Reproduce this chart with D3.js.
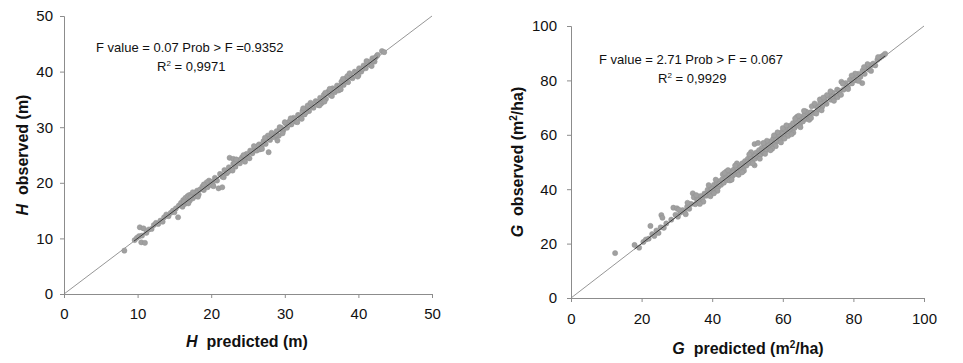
<!DOCTYPE html>
<html>
<head>
<meta charset="utf-8">
<script src="https://cdn.jsdelivr.net/npm/d3@7"></script>
<style>
  body { margin: 0; background: #fff; }
  svg { font-family: "Liberation Sans", Arial, sans-serif; }
  .axis path, .axis line { stroke: #8c8c8c; }
  .axis text { fill: #111; font-size: 15px; }
</style>
</head>
<body>
<script>
// H: predicted vs observed height (m)
const hPoints = [
  [8.2,7.8],[9.6,9.7],[9.9,10.1],[10.2,10.4],[10.3,12.0],[10.8,11.8],[10.5,9.3],[11.0,9.2],[10.6,10.5],[11.2,11.0],
  [11.5,11.6],[11.9,11.7],[12.2,12.4],[12.5,12.8],[12.8,12.6],[13.1,13.2],[13.4,13.0],[13.6,13.8],[13.9,14.3],[14.2,14.0],
  [14.5,14.6],[14.8,15.0],[15.0,14.7],[15.5,13.8],[15.6,15.9],[15.9,16.4],[16.1,15.7],[16.2,16.9],[16.4,16.2],[16.5,17.3],
  [16.7,16.5],[16.8,17.6],[17.0,17.8],[17.1,16.8],[17.3,17.9],[17.5,17.2],[17.7,18.2],[17.9,17.6],[18.1,18.6],[18.3,17.9],
  [18.5,18.8],[18.8,19.3],[19.0,18.7],[19.2,19.7],[19.5,19.2],[19.7,20.4],[20.0,20.2],[20.2,19.8],[20.5,20.9],[20.8,20.4],
  [21.0,19.0],[21.5,19.2],[21.2,21.6],[21.5,21.1],[21.8,22.3],[22.1,21.7],[22.4,22.8],[22.5,24.5],[23.0,24.3],[22.7,22.3],
  [23.0,23.4],[23.3,22.9],[23.6,24.0],[23.9,23.5],[24.2,24.6],[24.5,24.1],[24.8,25.2],[25.0,24.6],[25.3,25.8],[25.6,25.3],
  [25.9,26.2],[26.2,25.8],[26.5,26.9],[26.8,26.4],[27.1,27.5],[27.4,27.0],[27.7,28.5],[27.8,25.5],[28.0,27.7],[28.3,28.7],
  [28.6,28.2],[28.9,29.3],[29.2,28.5],[29.0,27.6],[29.5,29.9],[29.8,29.4],[30.1,30.7],[30.3,29.9],[30.6,31.0],[30.9,30.5],
  [31.2,31.7],[31.5,31.0],[31.8,32.2],[32.1,31.7],[32.4,32.9],[32.7,32.3],[33.0,33.4],[33.3,32.9],[33.6,34.1],[33.9,33.5],
  [34.2,34.7],[34.5,34.0],[34.8,35.3],[35.0,34.4],[35.3,35.8],[35.6,35.1],[35.9,36.4],[36.2,35.8],[36.5,37.0],[36.8,36.3],
  [37.1,37.5],[37.4,37.0],[37.7,38.2],[38.0,37.6],[38.3,38.8],[38.6,38.1],[38.9,39.4],[39.2,38.8],[39.5,40.0],[39.8,39.4],
  [40.1,40.6],[40.4,40.0],[40.7,41.1],[41.0,40.6],[41.3,41.8],[41.6,41.2],[41.9,42.4],[42.2,41.8],[42.5,42.8],[42.6,43.0],
  [43.2,43.7],[43.5,43.5],
  [15.2,15.4],[16.3,16.6],[17.2,17.4],[18.0,18.2],[18.9,18.9],[19.9,19.6],[20.6,20.6],[21.4,21.4],[22.3,22.0],[23.2,23.5],
  [24.0,24.2],[24.7,24.7],[25.5,25.6],[26.3,26.6],[27.0,27.0],[27.9,27.9],[28.8,28.6],[29.6,29.6],[30.5,30.4],[31.3,31.4],
  [32.0,32.1],[32.9,32.7],[33.7,33.8],[34.4,34.5],[35.2,35.1],[36.0,36.1],[36.7,36.7],[37.5,37.4],[38.2,38.3],[39.0,39.0],
  [39.7,39.8],[40.5,40.4],[41.2,41.3],[42.0,42.0],[31.7,30.9],[34.9,34.2],[35.5,36.2],[37.3,36.6],[38.5,39.2],[40.0,39.3],
  [22.9,22.2],[26.6,26.0],[24.4,25.0],[29.3,30.0],[33.1,33.9],[36.4,35.6],
  [17.5,18.3],[18.2,17.5],[19.4,20.1],[20.3,19.4],[21.7,21.0],[23.4,24.2],[24.6,23.8],[25.8,26.6],[26.9,26.1],[28.2,29.0],
  [29.7,28.9],[30.8,31.6],[32.3,31.5],[33.5,34.4],[34.7,33.9],[36.1,36.9],[37.6,36.8],[38.8,39.7],[39.9,39.1],[41.1,41.9],
  [41.8,41.0],[42.3,42.5],[30.0,30.9],[32.5,33.4],[35.4,34.6],[37.9,38.7],[27.3,28.1],[25.2,24.4],[19.0,19.7],[16.9,16.3]
];
const hFit = [[9.5, 9.5], [42.6, 42.6]];
const hTicks = [0, 10, 20, 30, 40, 50];

// G: predicted vs observed basal area (m2/ha)
const gPoints = [
  [12.5,16.5],[18.0,19.5],[19.3,18.5],[20.5,20.6],[21.2,21.5],[22.0,21.8],[22.5,26.5],[23.0,23.5],[23.6,22.8],[24.2,24.8],
  [24.8,23.9],[25.4,26.0],[25.6,30.5],[25.9,29.5],[26.3,25.8],[27.0,27.4],[28.4,28.8],[29.0,33.2],[30.0,33.0],[29.6,30.6],
  [30.3,29.9],[31.0,31.4],[31.6,32.3],[32.2,31.6],[32.9,33.5],[33.5,32.8],[34.0,34.6],[34.5,38.5],[34.8,37.0],[35.2,34.5],
  [35.7,36.2],[36.2,35.6],[36.7,37.5],[37.2,36.5],[37.8,38.4],[38.3,37.6],[38.7,39.8],[39.2,38.6],[39.6,40.5],[40.1,39.2],
  [40.5,41.6],[40.9,40.3],[41.3,42.3],[41.7,40.8],[42.1,43.0],[42.5,41.6],[42.9,43.7],[43.3,42.4],[43.7,44.5],[44.1,43.3],
  [44.5,45.6],[44.9,44.0],[45.3,46.6],[45.7,44.8],[46.1,47.2],[46.5,45.5],[46.9,48.0],[47.3,46.3],[47.7,48.6],[48.1,47.1],
  [48.5,49.5],[48.9,48.0],[49.3,50.3],[49.7,48.7],[50.1,51.2],[50.5,49.6],[50.9,51.9],[51.3,50.3],[51.7,52.8],[52.0,48.8],
  [52.1,51.2],[52.0,56.6],[53.0,57.0],[52.5,53.5],[52.9,52.0],[53.3,54.4],[53.7,52.8],[54.1,55.2],[54.5,53.6],[54.9,56.0],
  [55.3,54.4],[55.7,56.9],[56.1,55.2],[56.5,57.6],[56.9,56.0],[57.3,58.6],[57.7,56.9],[58.1,59.3],[58.5,57.6],[58.9,60.1],
  [59.3,58.4],[59.7,61.0],[60.1,59.2],[60.5,61.9],[60.9,60.1],[61.3,62.6],[61.7,60.9],[62.1,63.4],[62.5,61.8],[62.9,64.3],
  [63.3,62.5],[63.7,65.0],[64.1,63.4],[64.5,65.9],[64.9,64.0],[65.3,66.5],[65.7,64.9],[66.1,67.3],[66.5,65.8],[67.0,68.2],
  [67.6,66.8],[68.2,70.5],[68.8,68.0],[69.4,70.6],[70.0,69.2],[70.6,71.8],[71.2,70.4],[71.8,73.0],[72.4,71.4],[73.0,74.2],
  [73.6,72.9],[74.2,75.4],[74.8,74.0],[75.4,76.6],[76.0,75.2],[76.6,79.5],[77.2,76.6],[77.8,79.0],[78.4,77.6],[79.0,80.2],
  [79.6,78.9],[80.2,81.3],[80.8,80.0],[81.4,82.4],[82.0,81.3],[82.5,79.0],[82.6,83.6],[83.2,82.4],[83.8,84.8],[84.4,84.0],
  [85.0,85.6],[85.6,86.2],[86.2,85.5],[86.8,87.6],[87.4,88.2],[88.0,88.8],[88.6,89.3],[89.0,89.8],
  [36.0,36.0],[38.0,38.0],[40.0,40.2],[42.0,41.9],[44.0,44.0],[46.0,46.2],[48.0,48.0],[50.0,50.1],[52.2,52.3],[54.0,54.0],
  [56.0,56.2],[58.0,58.0],[60.0,60.3],[62.0,62.0],[64.0,64.2],[66.0,66.0],[68.0,68.3],[70.0,70.0],[72.0,72.1],[74.0,73.9],
  [76.0,76.2],[78.0,78.0],[80.0,80.1],[45.0,43.2],[47.5,45.3],[39.5,37.4],[44.0,46.5],[43.0,45.5],[55.5,57.8],[60.0,62.5],
  [64.0,66.6],[58.0,55.8],[63.0,60.8],[41.0,43.5],[49.0,46.8],[51.0,53.6],[57.0,54.9],[61.5,59.6],[66.5,68.6],[69.5,67.8],
  [72.5,74.6],[75.5,73.8],[70.5,73.0],
  [30.5,32.5],[32.5,30.8],[35.5,37.8],[37.5,35.4],[39.0,41.5],[41.5,39.4],[43.5,46.0],[45.5,43.5],[47.0,49.5],[48.5,46.2],
  [50.5,52.8],[53.5,51.2],[54.5,57.0],[56.5,54.3],[58.5,60.9],[59.5,57.2],[61.0,63.5],[62.5,60.2],[63.5,66.0],[65.0,62.8],
  [66.0,68.8],[67.5,65.5],[69.0,71.5],[71.0,69.0],[73.5,76.0],[74.5,72.5],[77.0,78.8],[78.5,76.8],[80.5,82.5],[81.5,79.8],
  [84.0,86.0],[85.0,83.5],[87.0,88.6],[33.0,35.0],[36.5,34.6],[46.5,48.7],[51.5,49.5],[57.5,59.8],[60.5,58.6],[64.5,67.0],
  [68.0,66.2],[71.5,73.7],[76.5,74.7],[79.5,81.8],[83.0,84.9],[40.5,38.5],[44.5,47.0],[55.0,53.0]
];
const gFit = [[18, 18], [89, 89]];
const gTicks = [0, 20, 40, 60, 80, 100];

const svg = d3.select("body").append("svg")
  .attr("width", 963)
  .attr("height", 363);

function drawPanel(opt) {
  const x = d3.scaleLinear().domain([0, opt.max]).range([opt.left, opt.right]);
  const y = d3.scaleLinear().domain([0, opt.max]).range([opt.bottom, opt.top]);
  const g = svg.append("g");

  // axes
  g.append("g")
    .attr("class", "axis")
    .attr("transform", "translate(0," + opt.bottom + ")")
    .call(d3.axisBottom(x).tickValues(opt.ticks).tickSize(4).tickPadding(opt.xPad).tickSizeOuter(4));
  g.append("g")
    .attr("class", "axis")
    .attr("transform", "translate(" + opt.left + ",0)")
    .call(d3.axisLeft(y).tickValues(opt.ticks).tickSize(4).tickPadding(opt.yPad).tickSizeOuter(4));

  // 1:1 line
  g.append("line")
    .attr("x1", x(0)).attr("y1", y(0))
    .attr("x2", x(opt.max)).attr("y2", y(opt.max))
    .attr("stroke", "#8a8a8a")
    .attr("stroke-width", 0.9);

  // points
  g.selectAll(".pt")
    .data(opt.points)
    .enter().append("circle")
    .attr("class", "pt")
    .attr("cx", d => x(d[0]))
    .attr("cy", d => y(d[1]))
    .attr("r", 2.6)
    .attr("fill", "#a0a0a0")
    .attr("stroke", "#939393")
    .attr("stroke-width", 0.5);

  // fitted line
  g.append("path")
    .datum(opt.fit)
    .attr("fill", "none")
    .attr("stroke", "#3a3a3a")
    .attr("stroke-width", 1)
    .attr("d", d3.line().x(d => x(d[0])).y(d => y(d[1])));

  // annotation
  g.append("text")
    .attr("x", opt.ann[0]).attr("y", opt.ann[1])
    .attr("font-size", 13).attr("fill", "#111")
    .text(opt.fText);
  const r2 = g.append("text")
    .attr("x", opt.ann2[0]).attr("y", opt.ann2[1])
    .attr("font-size", 13).attr("fill", "#111");
  r2.append("tspan").text("R");
  r2.append("tspan").attr("font-size", 8).attr("dy", -5).text("2");
  r2.append("tspan").attr("dy", 5).text(" = " + opt.r2);

  // axis titles
  const xt = g.append("text")
    .attr("x", opt.xTitle[0]).attr("y", opt.xTitle[1])
    .attr("text-anchor", "middle")
    .attr("font-size", 16).attr("font-weight", "bold").attr("fill", "#111");
  const yt = g.append("text")
    .attr("transform", "translate(" + opt.yTitle[0] + "," + opt.yTitle[1] + ") rotate(-90)")
    .attr("text-anchor", "middle")
    .attr("font-size", 16).attr("font-weight", "bold").attr("fill", "#111");
  [[xt, "predicted"], [yt, "observed"]].forEach(([t, word]) => {
    t.append("tspan").attr("font-style", "italic").text(opt.letter);
    t.append("tspan").text("\u00a0 " + word + " (m");
    if (opt.sup) {
      t.append("tspan").attr("font-size", 10).attr("dy", -6).text("2");
      t.append("tspan").attr("dy", 6).text("/ha)");
    } else {
      t.append("tspan").text(")");
    }
  });
}

drawPanel({
  points: hPoints, fit: hFit, ticks: hTicks, max: 50,
  left: 64, right: 432, top: 16, bottom: 294,
  xPad: 10, yPad: 7,
  fText: "F value = 0.07 Prob > F =0.9352", r2: "0,9971",
  ann: [96, 52], ann2: [157, 71],
  xTitle: [247, 347], yTitle: [28, 155],
  letter: "H", sup: false
});

drawPanel({
  points: gPoints, fit: gFit, ticks: gTicks, max: 100,
  left: 571, right: 924, top: 26, bottom: 298,
  xPad: 11, yPad: 10,
  fText: "F value = 2.71 Prob > F = 0.067", r2: "0,9929",
  ann: [599, 64], ann2: [658, 83],
  xTitle: [748, 354], yTitle: [523, 162],
  letter: "G", sup: true
});
</script>
</body>
</html>
